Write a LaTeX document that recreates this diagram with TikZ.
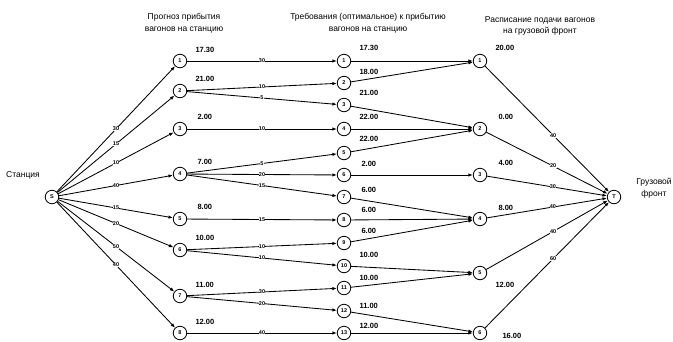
\documentclass[tikz,border=0pt]{standalone}
\usepackage{fontspec}
\setmainfont{Liberation Sans}
\usetikzlibrary{arrows.meta}

\begin{document}
\begin{tikzpicture}[x=1pt, y=-1pt,
		vertex/.style={circle, draw, line width=0.8pt, minimum size=13.5pt, inner sep=0pt, font=\bfseries\fontsize{5.5}{5.5}\selectfont},
		time/.style={anchor=west, font=\bfseries\fontsize{7.5}{8}\selectfont},
		flow/.style={-{Latex[length=4.5pt, width=3.4pt]}, line width=0.85pt},
		wt/.style={fill=white, inner sep=0.4pt, font=\bfseries\fontsize{5.5}{6}\selectfont},
		heading/.style={align=center, font=\fontsize{8.5}{11.5}\selectfont}]
		\useasboundingbox (0,0) rectangle (673,341);
		% headings
		\node[heading] (h1) at (184,23) {Прогноз прибытия\\вагонов на станцию};
		\node[heading] (h2) at (368,23) {Требования (оптимальное) к прибытию\\вагонов на станцию};
		\node[heading] (h3) at (540,26) {Расписание подачи вагонов\\на грузовой фронт};
		\node[heading] (st) at (23,175) {Станция};
		\node[heading] (gf) at (654,188) {Грузовой\\фронт};
		% station and front
		\node[vertex] (S) at (52,197) {S};
		\node[vertex] (T) at (614,197) {T};
		% forecast
		\node[vertex] (f1) at (180,61) {1};
		\node[vertex] (f2) at (180,91) {2};
		\node[vertex] (f3) at (180,129) {3};
		\node[vertex] (f4) at (180,174) {4};
		\node[vertex] (f5) at (180,219) {5};
		\node[vertex] (f6) at (180,250) {6};
		\node[vertex] (f7) at (180,296) {7};
		\node[vertex] (f8) at (180,333) {8};
		% requirements
		\node[vertex] (r1) at (344,61) {1};
		\node[vertex] (r2) at (344,83) {2};
		\node[vertex] (r3) at (344,105) {3};
		\node[vertex] (r4) at (344,129) {4};
		\node[vertex] (r5) at (344,153) {5};
		\node[vertex] (r6) at (344,175) {6};
		\node[vertex] (r7) at (344,197) {7};
		\node[vertex] (r8) at (344,220) {8};
		\node[vertex] (r9) at (344,243) {9};
		\node[vertex] (r10) at (344,266) {10};
		\node[vertex] (r11) at (344,288) {11};
		\node[vertex] (r12) at (344,311) {12};
		\node[vertex] (r13) at (344,333) {13};
		% schedule
		\node[vertex] (g1) at (480,61) {1};
		\node[vertex] (g2) at (480,129) {2};
		\node[vertex] (g3) at (480,175) {3};
		\node[vertex] (g4) at (480,219) {4};
		\node[vertex] (g5) at (480,273) {5};
		\node[vertex] (g6) at (480,333) {6};
		% times
		\node[time] (tf1) at (192,50) {17.30};
		\node[time] (tf2) at (192,79) {21.00};
		\node[time] (tf3) at (194,117) {2.00};
		\node[time] (tf4) at (194,162) {7.00};
		\node[time] (tf5) at (194,207) {8.00};
		\node[time] (tf6) at (192,238) {10.00};
		\node[time] (tf7) at (192,285) {11.00};
		\node[time] (tf8) at (192,322) {12.00};
		\node[time] (tr1) at (356,48) {17.30};
		\node[time] (tr2) at (356,72) {18.00};
		\node[time] (tr3) at (356,93) {21.00};
		\node[time] (tr4) at (356,117) {22.00};
		\node[time] (tr5) at (356,139) {22.00};
		\node[time] (tr6) at (358,164) {2.00};
		\node[time] (tr7) at (358,190) {6.00};
		\node[time] (tr8) at (358,210) {6.00};
		\node[time] (tr9) at (358,231) {6.00};
		\node[time] (tr10) at (356,255) {10.00};
		\node[time] (tr11) at (356,278) {10.00};
		\node[time] (tr12) at (356,306) {11.00};
		\node[time] (tr13) at (356,326) {12.00};
		\node[time] (tg1) at (492,48) {20.00};
		\node[time] (tg2) at (495,117) {0.00};
		\node[time] (tg3) at (495,163) {4.00};
		\node[time] (tg4) at (495,208) {8.00};
		\node[time] (tg5) at (492,285) {12.00};
		\node[time] (tg6) at (499,336) {16.00};
		% station to forecast
		\draw[flow] (S) -- node[wt] {30} (f1);
		\draw[flow] (S) -- node[wt] {15} (f2);
		\draw[flow] (S) -- node[wt] {10} (f3);
		\draw[flow] (S) -- node[wt] {40} (f4);
		\draw[flow] (S) -- node[wt] {15} (f5);
		\draw[flow] (S) -- node[wt] {20} (f6);
		\draw[flow] (S) -- node[wt] {50} (f7);
		\draw[flow] (S) -- node[wt] {40} (f8);
		% forecast to requirements
		\draw[flow] (f1) -- node[wt] {30} (r1);
		\draw[flow] (f2) -- node[wt] {10} (r2);
		\draw[flow] (f2) -- node[wt] {5} (r3);
		\draw[flow] (f3) -- node[wt] {10} (r4);
		\draw[flow] (f4) -- node[wt] {5} (r5);
		\draw[flow] (f4) -- node[wt] {20} (r6);
		\draw[flow] (f4) -- node[wt] {15} (r7);
		\draw[flow] (f5) -- node[wt] {15} (r8);
		\draw[flow] (f6) -- node[wt] {10} (r9);
		\draw[flow] (f6) -- node[wt] {10} (r10);
		\draw[flow] (f7) -- node[wt] {30} (r11);
		\draw[flow] (f7) -- node[wt] {20} (r12);
		\draw[flow] (f8) -- node[wt] {40} (r13);
		% requirements to schedule
		\draw[flow] (r1) -- (g1);
		\draw[flow] (r2) -- (g1);
		\draw[flow] (r3) -- (g2);
		\draw[flow] (r4) -- (g2);
		\draw[flow] (r5) -- (g2);
		\draw[flow] (r6) -- (g3);
		\draw[flow] (r7) -- (g4);
		\draw[flow] (r8) -- (g4);
		\draw[flow] (r9) -- (g4);
		\draw[flow] (r10) -- (g5);
		\draw[flow] (r11) -- (g5);
		\draw[flow] (r12) -- (g6);
		\draw[flow] (r13) -- (g6);
		% schedule to front
		\draw[flow] (g1) -- node[wt, pos=0.55] {40} (T);
		\draw[flow] (g2) -- node[wt, pos=0.55] {20} (T);
		\draw[flow] (g3) -- node[wt, pos=0.55] {30} (T);
		\draw[flow] (g4) -- node[wt, pos=0.55] {40} (T);
		\draw[flow] (g5) -- node[wt, pos=0.55] {40} (T);
		\draw[flow] (g6) -- node[wt, pos=0.55] {60} (T);
\end{tikzpicture}
\end{document}
